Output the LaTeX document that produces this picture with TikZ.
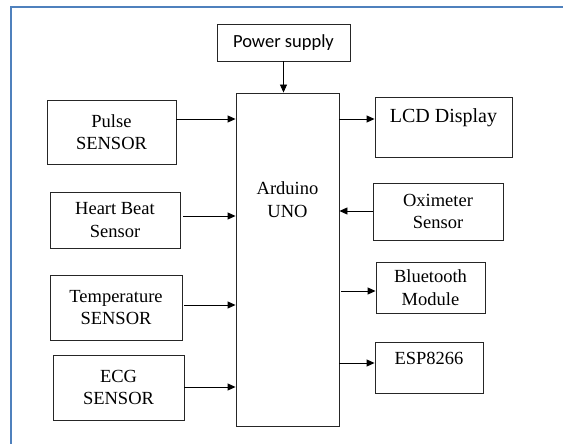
\documentclass[tikz,border=0pt]{standalone}
\usepackage{fontspec}
\setmainfont{Liberation Serif}
\newfontfamily\tnrfont{Liberation Serif}
\newfontfamily\psfont{Carlito}
\usetikzlibrary{arrows.meta}
\definecolor{framecol}{RGB}{79,129,189}

\begin{document}
\begin{tikzpicture}[x=1pt,y=-1pt,>={Triangle[length=8pt,width=7pt]},
  blk/.style={draw=black!85,line width=0.9pt,inner sep=0pt,align=center,
    font=\tnrfont\fontsize{18.5}{22.5}\selectfont},
  lnk/.style={->,line width=0.9pt}]
\useasboundingbox (0,0) rectangle (563,444);
\draw[framecol,line width=2pt] (11,444) -- (11,7) -- (563,7);
\node[blk,minimum width=133pt,minimum height=37pt,font=\psfont\fontsize{18.5}{22}\selectfont] (pwr) at (283.5,42.5) {Power supply};
\node[blk,minimum width=103pt,minimum height=333pt,text depth=120pt] (ard) at (287.5,259.5) {Arduino\\UNO};
\node[blk,minimum width=129pt,minimum height=64pt] (pulse) at (111.5,132) {Pulse\\SENSOR};
\node[blk,minimum width=130pt,minimum height=56pt] (heart) at (115,220) {Heart Beat\\Sensor};
\node[blk,minimum width=132pt,minimum height=65pt] (temp) at (116,307.5) {Temperature\\SENSOR};
\node[blk,minimum width=131pt,minimum height=65pt] (ecg) at (118.5,387.5) {ECG\\SENSOR};
\node[blk,minimum width=137pt,minimum height=60pt,text depth=22pt,font=\tnrfont\fontsize{20}{24}\selectfont] (lcd) at (443.5,127) {LCD Display};
\node[blk,minimum width=130pt,minimum height=57pt] (oxi) at (438,211.5) {Oximeter\\Sensor};
\node[blk,minimum width=109pt,minimum height=51pt] (bt) at (430.5,287.5) {Bluetooth\\Module};
\node[blk,minimum width=108pt,minimum height=51pt,text depth=18pt] (esp) at (429,367.5) {ESP8266};
\draw[lnk] (pwr.south) -- (pwr.south |- ard.north);
\draw[lnk] (pulse.east |- 0,119) -- (ard.west |- 0,119);
\draw[lnk] ([xshift=3pt]heart.east |- 0,216) -- (ard.west |- 0,216);
\draw[lnk] ([xshift=2pt]temp.east |- 0,305) -- (ard.west |- 0,305);
\draw[lnk] (ecg.east |- 0,387) -- (ard.west |- 0,387);
\draw[lnk] (ard.east |- 0,119) -- (lcd.west |- 0,119);
\draw[lnk] (oxi.west |- 0,211) -- (ard.east |- 0,211);
\draw[lnk] ([xshift=2pt]ard.east |- 0,291) -- (bt.west |- 0,291);
\draw[lnk] (ard.east |- 0,363) -- (esp.west |- 0,363);
\end{tikzpicture}
\end{document}
